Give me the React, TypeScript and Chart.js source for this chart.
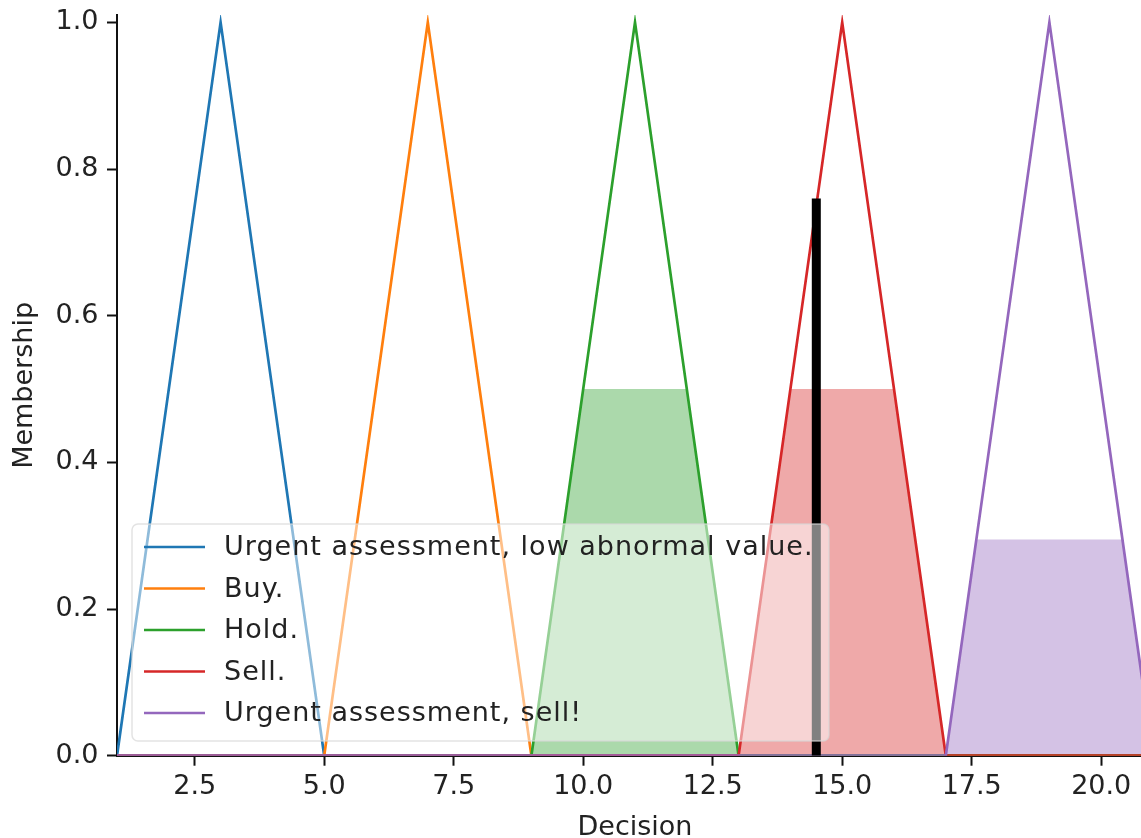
import React, { useEffect, useRef } from 'react';
import { Chart, registerables } from 'chart.js';

Chart.register(...registerables);

// ---- data ----
const seriesLabels = [
  'Urgent assessment, low abnormal value.',
  'Buy.',
  'Hold.',
  'Sell.',
  'Urgent assessment, sell!',
];
const seriesColors = ['#1f77b4', '#ff7f0e', '#2ca02c', '#d62728', '#9467bd'];
const seriesFills = [
  'rgba(31,119,180,0.4)',
  'rgba(255,127,14,0.4)',
  'rgba(44,160,44,0.4)',
  'rgba(214,39,40,0.4)',
  'rgba(148,103,189,0.4)',
];

const urgentLowX = [1, 3, 5, 21];
const urgentLowY = [0, 1, 0, 0];
const buyX = [1, 5, 7, 9, 21];
const buyY = [0, 0, 1, 0, 0];
const holdX = [1, 9, 11, 13, 21];
const holdY = [0, 0, 1, 0, 0];
const sellX = [1, 13, 15, 17, 21];
const sellY = [0, 0, 1, 0, 0];
const urgentSellX = [1, 17, 19, 21];
const urgentSellY = [0, 0, 1, 0];

// activated (clipped) areas
const holdActX = [9, 10, 12, 13];
const holdActY = [0, 0.5, 0.5, 0];
const sellActX = [13, 14, 16, 17];
const sellActY = [0, 0.5, 0.5, 0];
const urgentSellActX = [17, 17.59, 20.41, 21];
const urgentSellActY = [0, 0.295, 0.295, 0];

// crisp output
const crispX = [14.5, 14.5];
const crispY = [0, 0.76];

const xTicks = [2.5, 5, 7.5, 10, 12.5, 15, 17.5, 20];
const yTicks = [0, 0.2, 0.4, 0.6, 0.8, 1.0];
const xMin = 1;
const xMax = 21;
const yMin = 0;
const yMax = 1.01;

const FONT = 'DejaVu Sans';
const TEXT = '#222222';

const pts = (xs: number[], ys: number[]) => xs.map((x, i) => ({ x, y: ys[i] }));

const legendPlugin = {
  id: 'innerLegend',
  afterDraw(chart: any) {
    const ctx = chart.ctx as CanvasRenderingContext2D;
    const a = chart.chartArea;
    const bw = 697;
    const bh = 217;
    const bx = a.left + 15;
    const by = a.bottom - 14.7 - bh;
    ctx.save();
    ctx.beginPath();
    (ctx as any).roundRect(bx, by, bw, bh, 6);
    ctx.fillStyle = 'rgba(255,255,255,0.5)';
    ctx.fill();
    ctx.strokeStyle = 'rgba(215,215,215,0.7)';
    ctx.lineWidth = 1.5;
    ctx.stroke();
    ctx.font = `27px "${FONT}"`;
    (ctx as any).letterSpacing = '1px';
    ctx.textBaseline = 'middle';
    ctx.textAlign = 'left';
    seriesLabels.forEach((lab, i) => {
      const y = by + 23 + i * 41.5;
      ctx.beginPath();
      ctx.moveTo(bx + 12, y);
      ctx.lineTo(bx + 73, y);
      ctx.strokeStyle = seriesColors[i];
      ctx.lineWidth = 2.7;
      ctx.stroke();
      ctx.fillStyle = TEXT;
      ctx.fillText(lab, bx + 92, y + 1);
    });
    ctx.restore();
  },
};

export default function App() {
  const ref = useRef<HTMLCanvasElement | null>(null);

  useEffect(() => {
    if (!ref.current) return;
    const lineXs = [urgentLowX, buyX, holdX, sellX, urgentSellX];
    const lineYs = [urgentLowY, buyY, holdY, sellY, urgentSellY];
    const lineSets = lineXs.map((xs, i) => ({
      label: seriesLabels[i],
      data: pts(xs, lineYs[i]),
      borderColor: seriesColors[i],
      backgroundColor: seriesColors[i],
      borderWidth: 2.7,
      pointRadius: 0,
      fill: false,
      tension: 0,
      clip: 0,
      order: 5 - i,
    }));
    const fillSets = [
      { xs: holdActX, ys: holdActY, c: 2 },
      { xs: sellActX, ys: sellActY, c: 3 },
      { xs: urgentSellActX, ys: urgentSellActY, c: 4 },
    ].map((f) => ({
      label: seriesLabels[f.c] + ' activation',
      data: pts(f.xs, f.ys),
      borderWidth: 0,
      borderColor: 'rgba(0,0,0,0)',
      backgroundColor: seriesFills[f.c],
      pointRadius: 0,
      fill: 'origin',
      tension: 0,
      clip: 0,
      order: 10,
    }));
    const crispSet = {
      label: 'crisp',
      data: pts(crispX, crispY),
      borderColor: '#000000',
      borderWidth: 9,
      borderCapStyle: 'butt',
      pointRadius: 0,
      fill: false,
      clip: 0,
      order: 0,
    };

    const chart = new Chart(ref.current, {
      type: 'line',
      data: { datasets: [...lineSets, ...fillSets, crispSet] as any },
      plugins: [legendPlugin],
      options: {
        animation: false,
        responsive: false,
        devicePixelRatio: 1,
        events: [],
        layout: { padding: { left: 0, top: 15.1, right: 7, bottom: 0 } },
        plugins: { legend: { display: false }, tooltip: { enabled: false } },
        scales: {
          x: {
            type: 'linear',
            min: xMin,
            max: xMax,
            afterBuildTicks: (s: any) => {
              s.ticks = xTicks.map((v) => ({ value: v }));
            },
            afterFit: (s: any) => {
              s.height = 94.3;
              s.paddingLeft = 0;
              s.paddingRight = 0;
            },
            grid: {
              display: true,
              drawOnChartArea: false,
              drawTicks: true,
              tickLength: 10,
              tickWidth: 2,
              tickColor: '#111111',
            },
            border: { display: true, color: '#111111', width: 2 },
            ticks: {
              autoSkip: false,
              maxRotation: 0,
              padding: 5,
              color: TEXT,
              font: { family: FONT, size: 27, lineHeight: 1.2 },
              callback: (v: any) => Number(v).toFixed(1),
            },
            title: {
              display: true,
              text: 'Decision',
              color: TEXT,
              font: { family: FONT, size: 27, lineHeight: 1.2 },
              padding: { top: 0, bottom: 6 },
            },
          },
          y: {
            type: 'linear',
            min: yMin,
            max: yMax,
            afterBuildTicks: (s: any) => {
              s.ticks = yTicks.map((v) => ({ value: v }));
            },
            afterFit: (s: any) => {
              s.width = 117;
              s.paddingTop = 0;
              s.paddingBottom = 0;
            },
            grid: {
              display: true,
              drawOnChartArea: false,
              drawTicks: true,
              tickLength: 10,
              tickWidth: 2,
              tickColor: '#111111',
            },
            border: { display: true, color: '#111111', width: 2 },
            ticks: {
              autoSkip: false,
              padding: 8.5,
              color: TEXT,
              font: { family: FONT, size: 27, lineHeight: 1.2 },
              callback: (v: any) => Number(v).toFixed(1),
            },
            title: {
              display: true,
              text: 'Membership',
              color: TEXT,
              font: { family: FONT, size: 27, lineHeight: 1.2 },
              padding: { top: 9, bottom: 0 },
            },
          },
        },
      } as any,
    });
    return () => chart.destroy();
  }, []);

  return (
    <div
      style={{
        position: 'fixed',
        left: 0,
        top: 0,
        right: 0,
        bottom: 0,
        overflow: 'hidden',
        background: '#ffffff',
      }}
    >
      <canvas ref={ref} width={1160} height={850} style={{ display: 'block' }} />
    </div>
  );
}
